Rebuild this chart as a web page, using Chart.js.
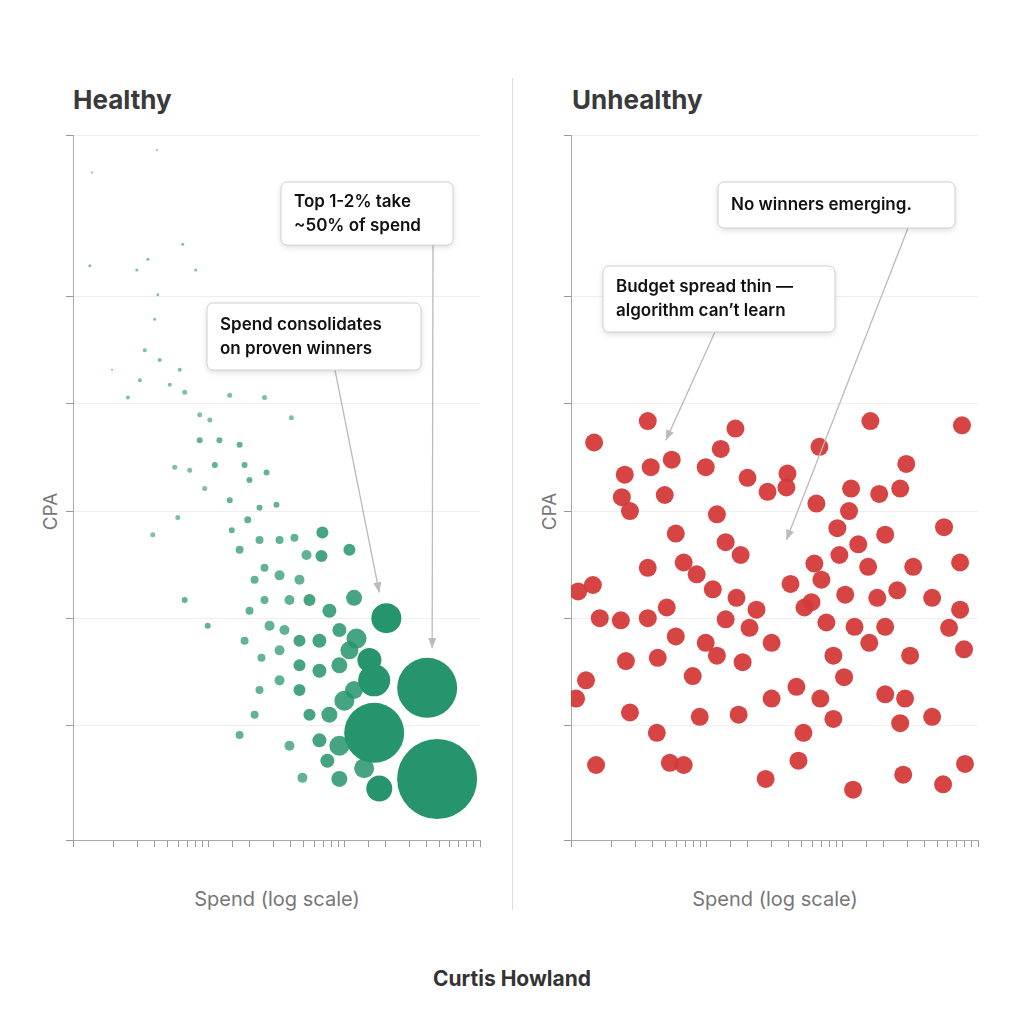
<!DOCTYPE html>
<html><head><meta charset="utf-8">
<script src="https://cdn.jsdelivr.net/npm/chart.js@4"></script>
<style>
body{margin:0;width:1024px;height:1024px;background:#fff;position:relative;font-family:Inter,"Noto Sans",sans-serif;overflow:hidden}
canvas{position:absolute;top:0}
.t{position:absolute;font-weight:700;font-size:26px;color:#3a3a3a;top:84px}
.cpa{position:absolute;color:#777;font-size:19px;top:500px;transform:rotate(-90deg);transform-origin:center}
.xl{position:absolute;color:#777;font-size:20px;top:887px;width:300px;text-align:center}
#div{position:absolute;left:512px;top:78px;width:1px;height:832px;background:#ddd}
#foot{position:absolute;top:966px;width:1024px;text-align:center;font-weight:700;font-size:21px;color:#333}
</style></head><body>
<div id="div"></div>
<div class="t" style="left:73px">Healthy</div>
<div class="t" style="left:572px">Unhealthy</div>
<div class="cpa" style="left:32px">CPA</div>
<div class="cpa" style="left:531px">CPA</div>
<div class="xl" style="left:127px">Spend (log scale)</div>
<div class="xl" style="left:625px">Spend (log scale)</div>
<div id="foot">Curtis Howland</div>
<canvas id="c1" width="512" height="1024" style="left:0;width:512px;height:1024px"></canvas>
<canvas id="c2" width="512" height="1024" style="left:512px;width:512px;height:1024px"></canvas>
<script>
// Healthy panel: spend, CPA, weight (share of spend)
const healthySpend=[1.38,4.15,1.33,2.95,3.56,6.44,8.02,4.22,4.0,1.94,2.54,3.11,3.38,4.36,5.17,6.12,6.66,8.59,10.2,14.3,25.8,40.7,5.62,7.25,9.35,11.1,16.9,18.4,14.3,20,26.7,8.59,12.0,5.92,3.87,14.8,23.7,31.6,19.4,16.9,23.7,33.3,42.9,52.6,67.8,109,68.9,25.8,33.3,46.7,21.8,25.8,39.4,55.3,77.6,118,6.66,9.84,20,28.1,36.2,46.7,65.5,91.9,123,18.4,24.5,33.3,46.7,65.5,91.9,153,166,204,23.7,33.3,46.7,55.3,77.6,100,21.8,16.9,39.4,65.5,91.9,166,408,483,49.1,91.9,140,181,109,118,75];
const healthyCPA=[6.16,6.37,5.29,5.25,5.35,5.49,5.25,5.02,4.79,4.32,4.06,4.22,4.5,4.41,4.18,4.32,4.11,3.9,3.85,4.08,4.06,3.87,3.41,3.38,3.21,3.43,3.62,3.43,3.1,3.29,3.36,3.66,3.66,2.94,2.78,2.82,3.03,3.06,2.92,2.64,2.73,2.73,2.75,2.59,2.58,2.64,2.8,2.47,2.4,2.36,2.36,2.17,2.17,2.17,2.07,2.19,2.17,1.93,2.07,1.93,1.89,1.79,1.79,1.89,1.81,1.79,1.63,1.7,1.56,1.51,1.56,1.61,1.42,2.0,1.33,1.42,1.33,1.1,1.1,1.23,1.1,0.91,0.81,0.86,0.81,0.93,1.35,0.5,0.51,0.5,0.6,0.41,1.7,1.33,0.67];
const healthyWeight=[1,1,1.5,1.5,1.5,1.5,1.5,1.5,1.5,1,2,2,2,2,2,2,2.5,2.5,2.5,2.5,2.5,2.5,2.5,2.5,2.5,3,3,3,3,3,3,3,3,2.5,2.5,3,3,3,3.5,4,4,4,4,5,6,6,6,4,5,5,4,4,5,6,7,8,3,3,4,5,5,6,7,7,10,4,4,5,6,7,8,12,16,15,4,5,6,6,8,10,4,4,5,7,10,30,30,40,5,8,10,13,9,9,7];
// Unhealthy panel
const unhealthySpend=[1.48,3.68,16.3,67.8,161,762,2.49,3.87,5.53,9.84,12.7,20,39.4,296,2.37,4.91,28.1,38.7,116,187,267,2.72,11.9,64.4,112,5.92,13.8,17.8,91.9,131,207,562,3.68,6.77,8.44,11.1,41.5,62.2,70.1,95.1,155,333,738,1.13,1.45,5.08,16.6,23.3,52.6,59.2,105,181,254,459,738,1.63,2.33,3.68,13.8,20.7,30.1,76.3,123,207,612,789,5.92,9.84,11.9,2.54,4.36,18.4,85.9,158,316,1.29,7.89,103,68.9,1.09,2.72,8.89,17.2,30.1,45.9,207,290,459,4.29,51.7,85.9,267,1.53,5.35,6.77,27.2,47.5,120,281,553,802];
const unhealthyCPA=[3.64,3.84,3.77,3.6,3.84,3.8,3.34,3.41,3.48,3.41,3.58,3.31,3.35,3.44,3.13,3.15,3.18,3.22,3.21,3.16,3.21,3.0,2.97,3.07,3.0,2.79,2.71,2.59,2.84,2.69,2.78,2.85,2.47,2.52,2.41,2.27,2.32,2.51,2.36,2.59,2.48,2.48,2.52,2.25,2.31,2.1,2.19,2.08,2.1,2.15,2.22,2.19,2.26,2.19,2.08,2.0,1.98,2.0,1.99,1.91,1.77,1.96,1.92,1.92,1.91,1.71,1.83,1.77,1.65,1.6,1.63,1.59,1.65,1.77,1.65,1.42,1.46,1.45,1.25,1.25,1.12,1.08,1.1,1.25,1.36,1.29,1.25,1.08,0.93,0.93,1.06,1.02,0.63,0.65,0.63,0.5,0.67,0.4,0.54,0.45,0.64];
const yTickValues=[1,2,3,4,5];
const yMin=-0.07,yMax=6.51;

function mkData(xs,ys,ws){return xs.map((x,i)=>({x:x,y:ys[i],r:ws?ws[i]:9}));}

const arrowPlugin={id:'notes',afterDatasetsDraw(chart,args,opts){
  const c=chart.ctx,xs=chart.scales.x,ys=chart.scales.y;
  opts.notes.forEach(n=>{
    const tx=xs.getPixelForValue(n.tip[0]),ty=ys.getPixelForValue(n.tip[1]);
    c.save();
    c.strokeStyle='#bbb';c.fillStyle='#bbb';c.lineWidth=1.3;
    c.beginPath();c.moveTo(n.from[0],n.from[1]);c.lineTo(tx,ty);c.stroke();
    const a=Math.atan2(ty-n.from[1],tx-n.from[0]);
    c.beginPath();c.moveTo(tx,ty);c.lineTo(tx-11*Math.cos(a-0.38),ty-11*Math.sin(a-0.38));c.lineTo(tx-11*Math.cos(a+0.38),ty-11*Math.sin(a+0.38));c.closePath();c.fill();
    c.shadowColor='rgba(0,0,0,0.15)';c.shadowBlur=6;c.shadowOffsetY=2;
    c.fillStyle='#fff';c.beginPath();c.roundRect(n.box[0],n.box[1],n.box[2],n.box[3],6);c.fill();
    c.shadowColor='transparent';c.strokeStyle='#d0d0d0';c.lineWidth=1;c.stroke();
    c.fillStyle='#111';c.font='600 17px Inter, sans-serif';c.textBaseline='middle';
    const lh=24,h0=n.box[1]+n.box[3]/2-(n.lines.length-1)*lh/2;
    n.lines.forEach((l,i)=>c.fillText(l,n.box[0]+13,h0+i*lh));
    c.restore();
  });
}};

function makeChart(id,data,colorFn,pad,notes){
  new Chart(document.getElementById(id),{type:'bubble',
    data:{datasets:[{data:data,backgroundColor:colorFn,borderWidth:0}]},
    plugins:[arrowPlugin],
    options:{responsive:false,animation:false,events:[],
      layout:{padding:pad,autoPadding:false},
      plugins:{legend:{display:false},tooltip:{enabled:false},notes:{notes:notes}},
      scales:{
        x:{type:'logarithmic',min:1,max:1000,ticks:{display:false},
           grid:{drawOnChartArea:false,tickLength:7,color:'#999'},border:{color:'#aaa'}},
        y:{min:yMin,max:yMax,ticks:{display:false},
           afterBuildTicks(s){s.ticks=[yMin].concat(yTickValues,[yMax]).map(v=>({value:v}));},
           grid:{color:'#eeeeee',tickLength:7,tickColor:'#999'},border:{color:'#aaa'}}
      }}});
}

makeChart('c1',mkData(healthySpend,healthyCPA,healthyWeight),
  ctx=>{const r=ctx.raw?ctx.raw.r:1;const a=r>=12?1:(r>=6?0.85:(r>=3?0.72:0.6));return 'rgba(38,148,108,'+a+')';},
  {left:66,right:32,top:135,bottom:177},
  [{box:[281,182,172,63],lines:['Top 1-2% take','~50% of spend'],from:[433,245],tip:[444,1.72]},
   {box:[207,303,214,67],lines:['Spend consolidates','on proven winners'],from:[335,370],tip:[181,2.24]}]);
makeChart('c2',mkData(unhealthySpend,unhealthyCPA,null),'rgba(212,58,58,0.95)',
  {left:52,right:46,top:135,bottom:177},
  [{box:[206,182,237,46],lines:['No winners emerging.'],from:[396,228],tip:[38.7,2.73]},
   {box:[91,266,232,66],lines:['Budget spread thin —','algorithm can\u2019t learn'],from:[203,332],tip:[5.0,3.66]}]);
</script></body></html>
